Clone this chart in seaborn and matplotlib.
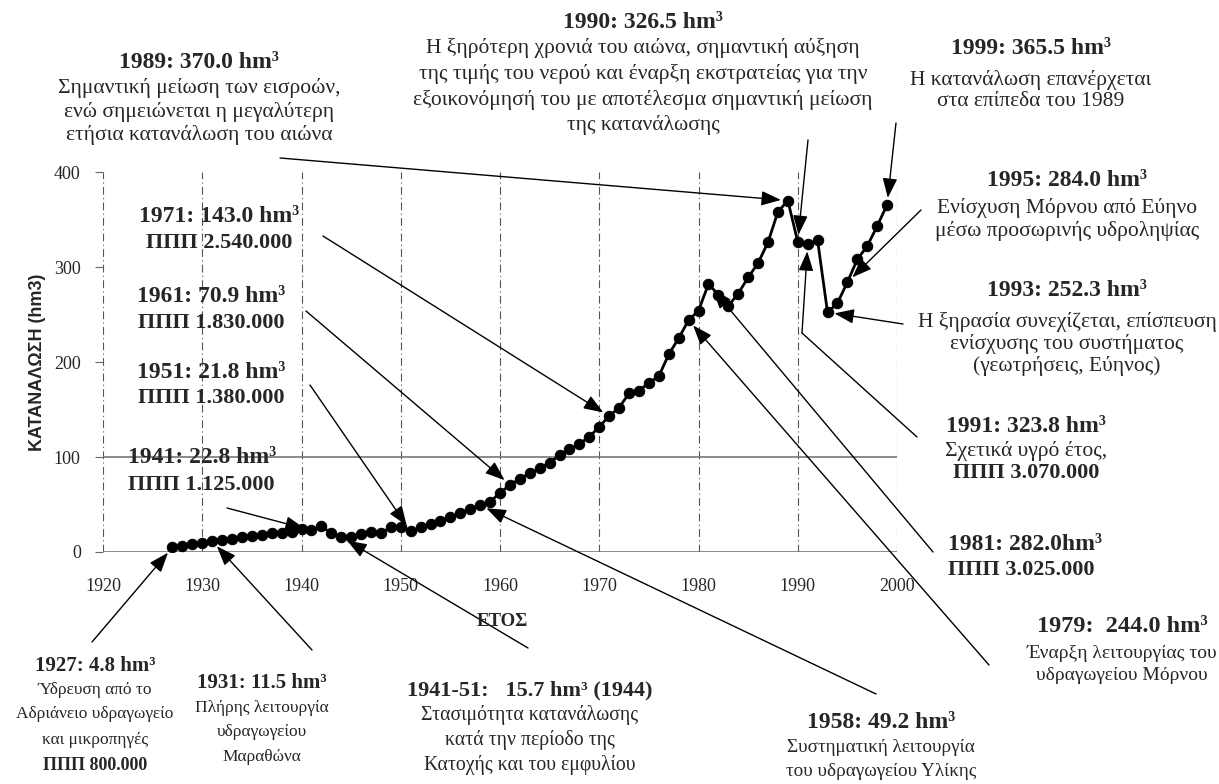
import matplotlib
matplotlib.use("Agg")
import matplotlib.pyplot as plt
import seaborn as sns
import pandas as pd

# ---------------- data ----------------
years = [1927, 1928, 1929, 1930, 1931, 1932, 1933, 1934, 1935, 1936,
         1937, 1938, 1939, 1940, 1941, 1942, 1943, 1944, 1945, 1946,
         1947, 1948, 1949, 1950, 1951, 1952, 1953, 1954, 1955, 1956,
         1957, 1958, 1959, 1960, 1961, 1962, 1963, 1964, 1965, 1966,
         1967, 1968, 1969, 1970, 1971, 1972, 1973, 1974, 1975, 1976,
         1977, 1978, 1979, 1980, 1981, 1982, 1983, 1984, 1985, 1986,
         1987, 1988, 1989, 1990, 1991, 1992, 1993, 1994, 1995, 1996,
         1997, 1998, 1999]
consumption = [4.8, 6.0, 8.5, 10.0, 11.5, 12.5, 14.0, 16.0, 17.0, 18.0,
               20.0, 20.0, 21.0, 24.0, 22.8, 27.0, 20.0, 15.7, 16.0, 19.0,
               21.0, 20.0, 26.0, 26.0, 21.8, 26.0, 29.0, 33.0, 37.0, 41.0,
               45.0, 49.2, 53.0, 62.0, 70.9, 77.0, 83.0, 88.0, 94.0, 102.0,
               108.0, 114.0, 121.0, 132.0, 143.0, 152.0, 167.0, 170.0, 178.0, 185.0,
               208.0, 225.0, 244.0, 254.0, 282.0, 271.0, 259.0, 272.0, 289.0, 304.0,
               326.0, 358.0, 370.0, 326.5, 323.8, 328.0, 252.3, 262.0, 284.0, 308.0,
               322.0, 343.0, 365.5]

x_ticks = [1920, 1930, 1940, 1950, 1960, 1970, 1980, 1990, 2000]
y_ticks = [0, 100, 200, 300, 400]

x_label = "ΕΤΟΣ"
y_label = "ΚΑΤΑΝΑΛΩΣΗ (hm3)"

# annotation texts (header, body lines) and the year each arrow points at
ann_target_years = [1989, 1990, 1999, 1995, 1993, 1991, 1981, 1979, 1958,
                    1944, 1931, 1927, 1941, 1951, 1961, 1971]
ann_headers = ["1989: 370.0 hm³", "1990: 326.5 hm³", "1999: 365.5 hm³",
               "1995: 284.0 hm³", "1993: 252.3 hm³", "1991: 323.8 hm³",
               "1981: 282.0hm³", "1979:  244.0 hm³", "1958: 49.2 hm³",
               "1941-51:   15.7 hm³ (1944)", "1931: 11.5 hm³", "1927: 4.8 hm³",
               "1941: 22.8 hm³", "1951: 21.8 hm³", "1961: 70.9 hm³",
               "1971: 143.0 hm³"]
ann_bodies = [
    ["Σημαντική μείωση των εισροών,", "ενώ σημειώνεται η μεγαλύτερη",
     "ετήσια κατανάλωση του αιώνα"],
    ["Η ξηρότερη χρονιά του αιώνα, σημαντική αύξηση",
     "της τιμής του νερού και έναρξη εκστρατείας για την",
     "εξοικονόμησή του με αποτέλεσμα σημαντική μείωση",
     "της κατανάλωσης"],
    ["Η κατανάλωση επανέρχεται", "στα επίπεδα του 1989"],
    ["Ενίσχυση Μόρνου από Εύηνο", "μέσω προσωρινής υδροληψίας"],
    ["Η ξηρασία συνεχίζεται, επίσπευση", "ενίσχυσης του συστήματος",
     "(γεωτρήσεις, Εύηνος)"],
    ["Σχετικά υγρό έτος,", "*ΠΠΠ 3.070.000"],
    ["*ΠΠΠ 3.025.000"],
    ["Έναρξη λειτουργίας του", "υδραγωγείου Μόρνου"],
    ["Συστηματική λειτουργία", "του υδραγωγείου Υλίκης"],
    ["Στασιμότητα κατανάλωσης", "κατά την περίοδο της",
     "Κατοχής και του εμφυλίου"],
    ["Πλήρης λειτουργία", "υδραγωγείου", "Μαραθώνα"],
    ["Ύδρευση από το", "Αδριάνειο υδραγωγείο", "και μικροπηγές",
     "*ΠΠΠ 800.000"],
    ["*ΠΠΠ 1.125.000"],
    ["*ΠΠΠ 1.380.000"],
    ["*ΠΠΠ 1.830.000"],
    ["*ΠΠΠ 2.540.000"],
]

# ---------------- layout (reference pixel coordinates) ----------------
W, H = 1219, 784
# text anchor x, alignment, header y, body line y's, header size, body size
ann_layout = [
    (199, "center", 62, [88, 112, 135], 17, 15.5),
    (643, "center", 23, [48, 74, 100, 125], 17, 15.5),
    (1031, "center", 48, [80, 102], 17, 15.5),
    (1067, "center", 180, [208, 231], 17, 15.5),
    (1067, "center", 290, [322, 344, 366], 17, 15.5),
    (1026, "center", 427, [451, 473], 17, 15.5),
    (948, "left", 545, [570], 17, 15.5),
    (1122, "center", 627, [653, 675], 17.5, 14),
    (881, "center", 722, [748, 772], 17, 13.8),
    (530, "center", 690, [715, 740, 765], 16, 14.2),
    (262, "center", 683, [708, 732, 757], 15, 12.5),
    (95, "center", 666, [690, 714, 740, 766], 15, 12.5),
    (128, "left", 458, [485], 17, 15.5),
    (211, "center", 372, [398], 17, 15.5),
    (211, "center", 296, [323], 17, 15.5),
    (219, "center", 217, [243], 17, 15.5),
]
# arrow tails (reference pixels) and optional kink
arrow_tails = [(280, 158), (808, 140), (896, 123), (921, 210), (903, 324),
               (917, 437), (933, 552), (989, 665), (876, 694), (528, 648),
               (312, 650), (92, 642), (227, 508), (310, 385), (306, 311),
               (323, 236)]
arrow_kinks = {5: (802, 333)}


def fig_frac(px, py):
    return (px / W, 1 - py / H)


# ---------------- plotting ----------------
sns.set_theme(style="white")
plt.rcParams["font.family"] = ["Liberation Serif", "DejaVu Serif"]

fig = plt.figure(figsize=(W / 100, H / 100), dpi=100)
ax = fig.add_axes([103 / W, 1 - 552 / H, (897 - 103) / W, (552 - 172) / H])

df = pd.DataFrame({"year": years, "value": consumption})

# grid lines
for xv in x_ticks:
    ax.axvline(xv, color="#555555", lw=0.8, ls=(0, (7, 3, 1, 3)), zorder=0)
for yv in y_ticks[:2]:
    ax.axhline(yv, color="#777777", lw=1.2, zorder=0)

sns.lineplot(data=df, x="year", y="value", ax=ax, color="black", lw=2,
             marker="o", markersize=7.5, markeredgecolor="black",
             markerfacecolor="black", zorder=3)

ax.set_xlim(1920, 2000)
ax.set_ylim(0, 400)
ax.set_xticks(x_ticks)
ax.set_xticklabels([str(t) for t in x_ticks])
ax.set_yticks(y_ticks)
ax.set_yticklabels([str(t) for t in y_ticks])
ax.tick_params(axis="x", length=0, pad=19, labelsize=13)
ax.tick_params(axis="y", length=6, width=0.8, color="#666666", pad=10,
               labelsize=13, left=True)
for s in ax.spines.values():
    s.set_visible(False)
ax.set_xlabel("")
ax.set_ylabel("")

fig.text(38 / W, 1 - 362 / H, y_label, rotation=90, ha="center", va="center",
         fontsize=13, fontweight="bold",
         family=["Liberation Sans", "DejaVu Sans"])
fig.text(502 / W, 1 - 622 / H, x_label, ha="center", va="center",
         fontsize=13.5, fontweight="bold")

# annotation texts
for header, body, (ax_x, align, hy, body_ys, hs, bs) in zip(
        ann_headers, ann_bodies, ann_layout):
    fig.text(*fig_frac(ax_x, hy), header, ha=align, va="center",
             fontsize=hs, fontweight="bold")
    for line, ly in zip(body, body_ys):
        bold = line.startswith("*")
        txt = line[1:] if bold else line
        fig.text(*fig_frac(ax_x, ly), txt, ha=align, va="center",
                 fontsize=bs + (0.5 if bold else 0),
                 fontweight="bold" if bold else "normal")

# arrows
value_by_year = dict(zip(years, consumption))
arrow_style = dict(arrowstyle="-|>,head_length=0.8,head_width=0.3",
                   color="black", lw=1.0, mutation_scale=15,
                   shrinkA=0, shrinkB=5)
for i, (yr, tail) in enumerate(zip(ann_target_years, arrow_tails)):
    target = (yr, value_by_year[yr])
    if i in arrow_kinks:
        kink = arrow_kinks[i]
        ax.annotate("", xy=fig_frac(*kink), xycoords="figure fraction",
                    xytext=fig_frac(*tail), textcoords="figure fraction",
                    arrowprops=dict(arrowstyle="-", color="black", lw=1.0,
                                    shrinkA=0, shrinkB=0))
        tail = kink
    ax.annotate("", xy=target, xycoords="data",
                xytext=fig_frac(*tail), textcoords="figure fraction",
                arrowprops=arrow_style, annotation_clip=False)

fig.savefig("out.png", dpi=100)
